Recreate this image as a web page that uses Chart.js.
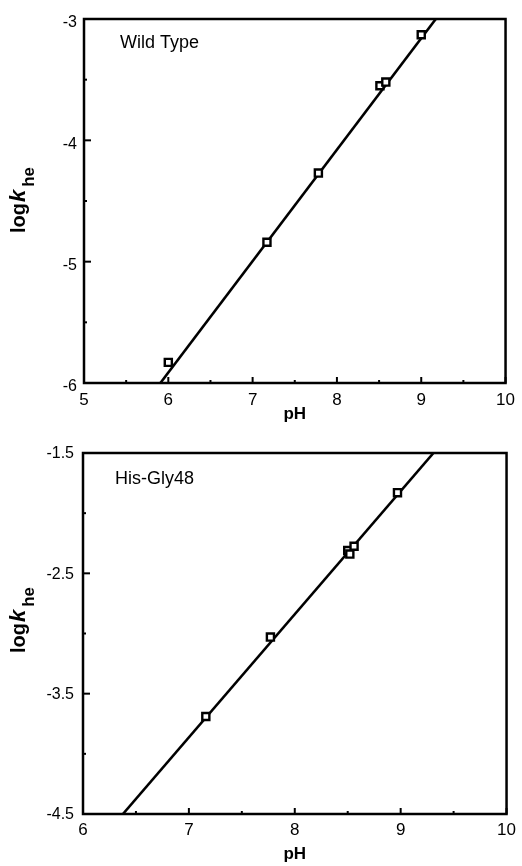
<!DOCTYPE html>
<html><head><meta charset="utf-8">
<script src="https://cdn.jsdelivr.net/npm/chart.js@4/dist/chart.umd.min.js"></script>
<style>
html,body{margin:0;padding:0;background:#fff;}
#wrap{position:relative;width:522px;height:866px;background:#fff;}
canvas{position:absolute;left:0;}
</style></head><body>
<div id="wrap">
<canvas id="c1" width="522" height="430" style="top:0px"></canvas>
<canvas id="c2" width="522" height="436" style="top:430px"></canvas>
</div>
<script>
// ---- Data: Wild Type ----
const wtPH = [6.00, 7.17, 7.78, 8.51, 8.58, 9.00];
const wtLogK = [-5.83, -4.84, -4.27, -3.55, -3.52, -3.13];
const wtFitPH = [5.906, 9.173];
const wtFitLogK = [-6.0, -3.0];
const wtXLabels = [5, 6, 7, 8, 9, 10];
const wtYLabels = [-3, -4, -5, -6];

// ---- Data: His-Gly48 ----
const hgPH = [7.16, 7.77, 8.50, 8.52, 8.56, 8.97];
const hgLogK = [-3.69, -3.03, -2.31, -2.34, -2.275, -1.83];
const hgFitPH = [6.377, 9.31];
const hgFitLogK = [-4.5, -1.5];
const hgXLabels = [6, 7, 8, 9, 10];
const hgYLabels = [-1.5, -2.5, -3.5, -4.5];

const FONT = '"Liberation Sans", Arial, Helvetica, sans-serif';
Chart.defaults.font.family = FONT;
Chart.defaults.color = '#000';

function pts(xs, ys) { return xs.map((x, i) => ({x: x, y: ys[i]})); }

const framePlugin = {
  id: 'frame',
  afterDatasetsDraw(chart, args, o) {
    const ctx = chart.ctx, a = chart.chartArea;
    ctx.save();
    ctx.strokeStyle = '#000';
    // inward ticks
    const xs = chart.scales.x, ys = chart.scales.y;
    ctx.lineWidth = 2;
    xs.ticks.forEach(t => {
      const px = xs.getPixelForValue(t.value);
      const major = o.xLabels.includes(t.value);
      const len = major ? 6 : 3;
      ctx.beginPath(); ctx.moveTo(px, a.bottom); ctx.lineTo(px, a.bottom - len); ctx.stroke();
    });
    ys.ticks.forEach(t => {
      const py = ys.getPixelForValue(t.value);
      const major = o.yLabels.includes(t.value);
      const len = major ? 7 : 3;
      ctx.beginPath(); ctx.moveTo(a.left, py); ctx.lineTo(a.left + len, py); ctx.stroke();
    });
    // frame
    ctx.lineWidth = 2.5;
    ctx.strokeRect(a.left, a.top, a.right - a.left, a.bottom - a.top);
    // panel label
    ctx.fillStyle = '#000';
    ctx.font = '18px ' + FONT;
    ctx.textAlign = 'left';
    ctx.textBaseline = 'alphabetic';
    ctx.fillText(o.panel, a.left + o.panelDx, a.top + o.panelDy);
    // y title: log k_he
    ctx.translate(o.titleX, o.titleY);
    ctx.rotate(-Math.PI / 2);
    const parts = [
      {t: 'log', f: 'bold 20px ' + FONT, dy: 0, gap: 1},
      {t: 'k', f: 'bold italic 22px ' + FONT, dy: 0, gap: 3},
      {t: 'he', f: 'bold 17px ' + FONT, dy: 9, gap: 0}
    ];
    let total = 0;
    parts.forEach(p => { ctx.font = p.f; p.w = ctx.measureText(p.t).width; total += p.w + p.gap; });
    let x = -total / 2;
    parts.forEach(p => { ctx.font = p.f; ctx.fillText(p.t, x, p.dy); x += p.w + p.gap; });
    ctx.restore();
  }
};

function makeChart(id, cfg) {
  return new Chart(document.getElementById(id), {
    type: 'scatter',
    data: {
      datasets: [
        {
          label: 'fit', data: pts(cfg.fitX, cfg.fitY), showLine: true,
          borderColor: '#000', borderWidth: 2.6, pointRadius: 0, fill: false, order: 2
        },
        {
          label: 'data', data: pts(cfg.px, cfg.py), showLine: false,
          pointStyle: 'rect', pointRadius: 5, borderWidth: 2.4,
          pointBorderColor: '#000', pointBackgroundColor: '#fff', order: 1
        }
      ]
    },
    options: {
      responsive: false, animation: false, devicePixelRatio: 1,
      layout: {padding: {top: cfg.padTop, right: cfg.padRight, bottom: 0, left: 0}},
      plugins: {
        legend: {display: false}, tooltip: {enabled: false},
        frame: {xLabels: cfg.xLabels, yLabels: cfg.yLabels, panel: cfg.panel,
                panelDx: cfg.panelDx, panelDy: cfg.panelDy, titleX: cfg.titleX, titleY: cfg.titleY}
      },
      scales: {
        x: {
          type: 'linear', min: cfg.xMin, max: cfg.xMax,
          grid: {display: false, drawTicks: false},
          border: {display: false},
          afterFit: s => { s.height = cfg.xHeight; },
          ticks: {
            stepSize: 0.5, autoSkip: false, maxRotation: 0, padding: cfg.xTickPad,
            font: {size: 17}, color: '#000',
            callback: v => cfg.xLabels.includes(v) ? String(v) : ''
          },
          title: {display: true, text: 'pH', font: {size: 17, weight: 'bold'}, color: '#000',
                  padding: {top: 0, bottom: cfg.xTitlePad}}
        },
        y: {
          type: 'linear', min: cfg.yMin, max: cfg.yMax,
          grid: {display: false, drawTicks: false},
          border: {display: false},
          afterFit: s => { s.width = cfg.yWidth; },
          ticks: {
            stepSize: 0.5, autoSkip: false, padding: cfg.yTickPad, labelOffset: cfg.yLabelOffset,
            font: {size: 16}, color: '#000',
            callback: v => cfg.yLabels.includes(v) ? String(v) : ''
          }
        }
      }
    },
    plugins: [framePlugin]
  });
}

makeChart('c1', {
  px: wtPH, py: wtLogK, fitX: wtFitPH, fitY: wtFitLogK,
  xLabels: wtXLabels, yLabels: wtYLabels,
  xMin: 5, xMax: 10, yMin: -6, yMax: -3,
  padTop: 19, padRight: 15, xHeight: 47, yWidth: 84,
  xTickPad: 7, yTickPad: 7, yLabelOffset: 4, xTitlePad: 5,
  panel: 'Wild Type', panelDx: 36, panelDy: 29,
  titleX: 25, titleY: 200
});

makeChart('c2', {
  px: hgPH, py: hgLogK, fitX: hgFitPH, fitY: hgFitLogK,
  xLabels: hgXLabels, yLabels: hgYLabels,
  xMin: 6, xMax: 10, yMin: -4.5, yMax: -1.5,
  padTop: 23, padRight: 14, xHeight: 52, yWidth: 83,
  xTickPad: 6, yTickPad: 9, yLabelOffset: 1, xTitlePad: 1,
  panel: 'His-Gly48', panelDx: 32, panelDy: 31,
  titleX: 25, titleY: 190
});
</script>
</body></html>
